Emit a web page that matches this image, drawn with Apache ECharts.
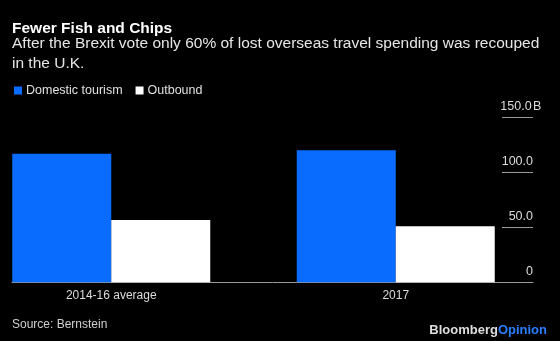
<!DOCTYPE html>
<html>
<head>
<meta charset="utf-8">
<script src="https://cdn.jsdelivr.net/npm/echarts@6/dist/echarts.min.js"></script>
<style>
  html, body { margin: 0; padding: 0; background: #000; overflow: hidden; }
  #wrap { position: relative; width: 560px; height: 341px; overflow: hidden; }
  /* the canvas reaches past the left edge so the first category band can start off-page */
  #chart { position: absolute; left: -31px; top: 0; width: 591px; height: 341px; }
</style>
</head>
<body>
<div id="wrap"><div id="chart"></div></div>
<script>
// Travel spending, billions
const categories = ['2014-16 average', '2017'];
const domesticTourism = [117.0, 120.1];
const outbound = [56.6, 50.9];
const yTicks = [0, 50, 100, 150];

const FONT = '"Liberation Sans", Arial, Helvetica, sans-serif';
const BLUE = '#0a6cff';
const SHIFT = 31; // canvas offset to the left
const TICK_LABEL_W = 34; // numbers right-aligned in this box, unit hangs after it

const chart = echarts.init(document.getElementById('chart'), null, { renderer: 'canvas' });

const plotTop = 117.5;
const plotBottom = 58.8;

chart.setOption({
  backgroundColor: '#000',
  animation: false,
  textStyle: { fontFamily: FONT },
  title: [
    {
      text: 'Fewer Fish and Chips',
      left: 12 + SHIFT, top: 21, padding: 0,
      textStyle: { color: '#fff', fontSize: 15.5, fontWeight: 'bold', fontFamily: FONT }
    },
    {
      text: 'After the Brexit vote only 60% of lost overseas travel spending was recouped\nin the U.K.',
      left: 12 + SHIFT, top: 34, padding: 0,
      textStyle: { color: '#e6e6e6', fontSize: 15.5, fontWeight: 'normal', lineHeight: 20, fontFamily: FONT }
    },
    {
      text: 'Source: Bernstein',
      left: 12 + SHIFT, top: 319, padding: 0,
      textStyle: { color: '#cfcfcf', fontSize: 12, fontWeight: 'normal', fontFamily: FONT }
    },
    {
      text: '{a|Bloomberg}{b|Opinion}',
      right: 13, top: 324, padding: 0,
      textStyle: {
        fontFamily: FONT,
        rich: {
          a: { color: '#dedede', fontSize: 13, fontWeight: 'bold', fontFamily: FONT },
          b: { color: '#2a7fff', fontSize: 13, fontWeight: 'bold', fontFamily: FONT }
        }
      }
    }
  ],
  legend: {
    left: 14 + SHIFT, top: 84, padding: 0,
    icon: 'rect',
    itemWidth: 8, itemHeight: 8,
    itemGap: 13,
    textStyle: { color: '#e0e0e0', fontSize: 12.5, fontFamily: FONT, padding: [0, 0, 0, -1] },
    data: ['Domestic tourism', 'Outbound']
  },
  grid: [
    // bars
    { left: 0, right: 22, top: plotTop, bottom: plotBottom },
    // baseline
    { left: 12 + SHIFT, right: 27, top: plotTop, bottom: plotBottom },
    // value ticks on the right
    { left: 502 + SHIFT, right: 27, top: plotTop, bottom: plotBottom }
  ],
  xAxis: [
    {
      type: 'category', gridIndex: 0, data: categories,
      axisLine: { show: false }, axisTick: { show: false },
      axisLabel: { color: '#dcdcdc', fontSize: 12, margin: 7, fontFamily: FONT }
    },
    {
      type: 'value', gridIndex: 1, min: 0, max: 1,
      axisLine: { show: true, lineStyle: { color: '#9a9a9a', width: 1 } },
      axisTick: { show: false }, axisLabel: { show: false }, splitLine: { show: false }
    },
    {
      type: 'value', gridIndex: 2, min: 0, max: 1, show: false
    }
  ],
  yAxis: [
    { type: 'value', gridIndex: 0, min: 0, max: 150, show: false },
    { type: 'value', gridIndex: 1, min: 0, max: 150, show: false },
    {
      type: 'value', gridIndex: 2, min: 0, max: 150, interval: 50,
      position: 'right',
      axisLine: { show: false }, axisTick: { show: false },
      splitLine: { show: true, lineStyle: { color: '#9a9a9a', width: 1 } },
      axisLabel: {
        inside: true, margin: TICK_LABEL_W, align: 'left', verticalAlign: 'bottom',
        padding: [0, 0, 4, 0],
        color: '#dcdcdc', fontSize: 12.5, fontFamily: FONT,
        formatter: function (v) {
          const num = v === 0 ? '0' : v.toFixed(1);
          if (v === yTicks[yTicks.length - 1]) return '{n|' + num + '}{u|B}';
          return '{n|' + num + '}';
        },
        rich: {
          n: { width: TICK_LABEL_W, align: 'right', color: '#dcdcdc', fontSize: 12.5, fontFamily: FONT },
          u: { color: '#dcdcdc', fontSize: 12.5, fontFamily: FONT }
        }
      }
    }
  ],
  series: [
    {
      name: 'Domestic tourism', type: 'bar', xAxisIndex: 0, yAxisIndex: 0,
      data: domesticTourism, barWidth: 99, barGap: '0%',
      itemStyle: { color: BLUE }
    },
    {
      name: 'Outbound', type: 'bar', xAxisIndex: 0, yAxisIndex: 0,
      data: outbound, barWidth: 99, barGap: '0%',
      itemStyle: { color: '#ffffff' }
    }
  ]
});
</script>
</body>
</html>
